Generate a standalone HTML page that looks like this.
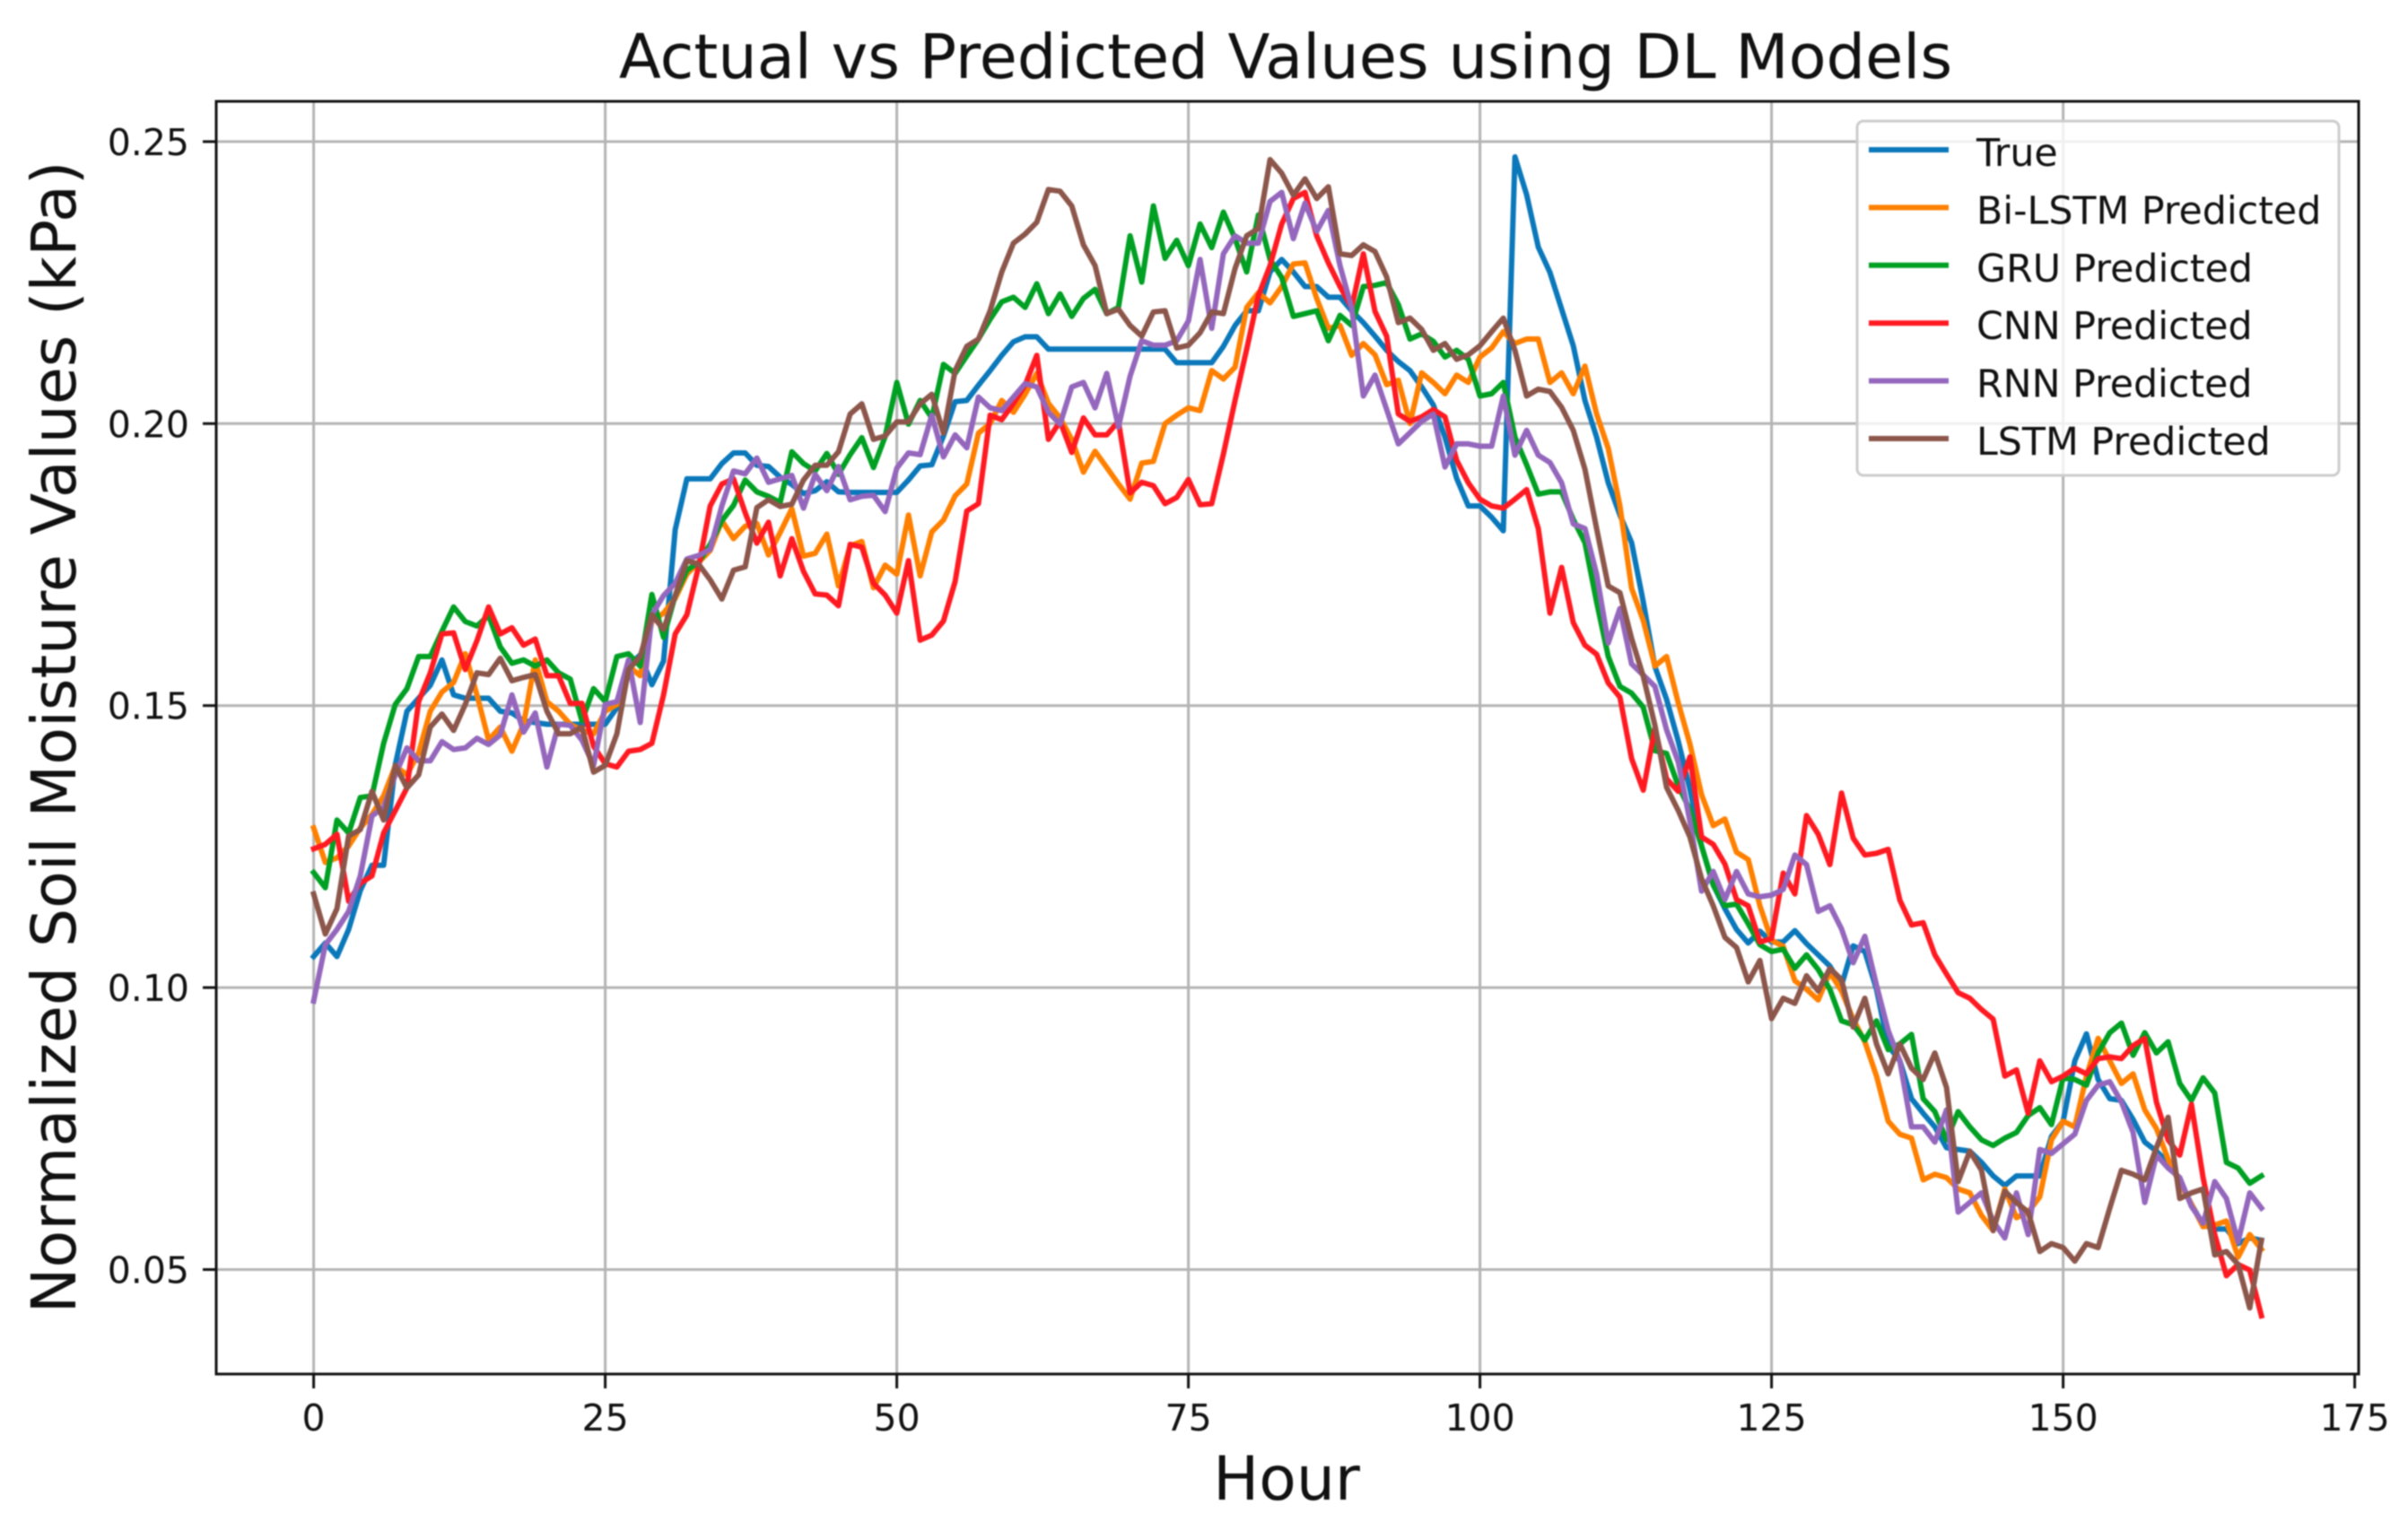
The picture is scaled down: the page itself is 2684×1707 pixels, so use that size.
<!DOCTYPE html>
<html lang="en">
<head>
<meta charset="utf-8">
<title>Actual vs Predicted Values using DL Models</title>
<style>
html,body{margin:0;padding:0;background:#fff;}
svg{display:block;filter:blur(0.7px);}
text{font-family:"DejaVu Sans","Liberation Sans",sans-serif;fill:#111;}
</style>
</head>
<body>
<svg id="chart" width="2684" height="1707" viewBox="0 0 2684 1707" xmlns="http://www.w3.org/2000/svg">
  <rect x="0" y="0" width="2684" height="1707" fill="#ffffff"/>
  <text x="1433" y="87" font-size="68.6" text-anchor="middle">Actual vs Predicted Values using DL Models</text>
  <text x="1434" y="1672" font-size="68" text-anchor="middle">Hour</text>
  <text x="84" y="822" font-size="68.2" text-anchor="middle" transform="rotate(-90 84 822)">Normalized Soil Moisture Values (kPa)</text>
  <g id="grid"></g>
  <g id="series"></g>
  <g id="ticks"></g>
  <rect x="241" y="113" width="2388" height="1419" fill="none" stroke="#111" stroke-width="3"/>
  <g id="legend">
    <rect x="2070" y="135" width="537" height="395" rx="7" ry="7" fill="#ffffff" fill-opacity="0.8" stroke="#cccccc" stroke-width="3"/>
  </g>
</svg>
<script>
const xTicks = [0, 25, 50, 75, 100, 125, 150, 175];
const yTicks = [0.05, 0.10, 0.15, 0.20, 0.25];
const yTickLabels = ["0.05", "0.10", "0.15", "0.20", "0.25"];
const seriesNames = ["True", "Bi-LSTM Predicted", "GRU Predicted", "CNN Predicted", "RNN Predicted", "LSTM Predicted"];
const trueValues = [
.1055,.1079,.1055,.1103,.1172,.1217,.1217,.1395,.1490,.1513,
.1536,.1581,.1519,.1513,.1513,.1513,.1490,.1487,.1473,.1470,
.1467,.1467,.1467,.1467,.1467,.1467,.1496,.1570,.1590,.1537,
.1579,.1812,.1902,.1902,.1902,.1929,.1948,.1948,.1926,.1924,
.1905,.1892,.1876,.1881,.1897,.1879,.1878,.1878,.1878,.1878,
.1878,.1900,.1925,.1927,.1978,.2039,.2041,.2068,.2094,.2121,
.2145,.2154,.2154,.2132,.2132,.2132,.2132,.2132,.2132,.2132,
.2132,.2132,.2132,.2132,.2108,.2108,.2108,.2108,.2137,.2174,
.2200,.2200,.2269,.2291,.2269,.2243,.2243,.2224,.2224,.2200,
.2179,.2155,.2130,.2110,.2094,.2065,.2033,.1976,.1903,.1854,
.1854,.1834,.1810,.2473,.2406,.2313,.2268,.2203,.2138,.2041,
.1976,.1895,.1838,.1789,.1684,.1569,.1511,.1437,.1352,.1251,
.1182,.1140,.1103,.1079,.1100,.1081,.1081,.1101,.1078,.1058,
.1038,.1004,.1074,.1064,.0997,.0897,.0870,.0803,.0777,.0753,
.0716,.0713,.0710,.0690,.0666,.0649,.0666,.0666,.0666,.0736,
.0763,.0870,.0918,.0837,.0803,.0800,.0766,.0726,.0710,.0690,
.0656,.0616,.0579,.0572,.0572,.0546,.0556,.0552];
const biLstmValues = [
.1283,.1222,.1230,.1251,.1283,.1307,.1340,.1393,.1377,.1416,
.1490,.1524,.1541,.1592,.1519,.1439,.1462,.1419,.1467,.1581,
.1507,.1490,.1467,.1456,.1450,.1490,.1502,.1570,.1553,.1649,
.1664,.1690,.1733,.1754,.1775,.1828,.1796,.1818,.1823,.1767,
.1807,.1849,.1765,.1770,.1804,.1712,.1783,.1791,.1709,.1749,
.1733,.1838,.1730,.1808,.1829,.1872,.1893,.1983,.2000,.2041,
.2020,.2052,.2089,.2036,.2010,.1972,.1914,.1951,.1922,.1893,
.1866,.1930,.1933,.2000,.2015,.2028,.2023,.2094,.2079,.2100,
.2206,.2232,.2214,.2243,.2283,.2285,.2222,.2169,.2174,.2121,
.2142,.2122,.2069,.2077,.2000,.2090,.2073,.2053,.2086,.2073,
.2118,.2134,.2163,.2142,.2150,.2150,.2073,.2090,.2053,.2102,
.2017,.1956,.1854,.1708,.1651,.1570,.1587,.1505,.1432,.1342,
.1287,.1299,.1240,.1227,.1145,.1084,.1073,.1012,.0997,.0978,
.1027,.0994,.0944,.0904,.0843,.0763,.0740,.0733,.0659,.0669,
.0663,.0643,.0636,.0596,.0569,.0643,.0592,.0602,.0629,.0730,
.0763,.0753,.0843,.0910,.0870,.0830,.0847,.0783,.0750,.0696,
.0653,.0616,.0576,.0579,.0586,.0522,.0562,.0536];
const gruValues = [
.1204,.1177,.1297,.1274,.1337,.1340,.1433,.1502,.1530,.1587,
.1587,.1632,.1675,.1649,.1641,.1660,.1604,.1575,.1581,.1570,
.1581,.1558,.1547,.1473,.1530,.1507,.1587,.1592,.1570,.1697,
.1621,.1695,.1740,.1754,.1786,.1828,.1855,.1900,.1879,.1871,
.1860,.1950,.1929,.1916,.1947,.1910,.1945,.1975,.1922,.1977,
.2073,.1999,.2041,.2010,.2105,.2089,.2120,.2150,.2185,.2216,
.2224,.2206,.2248,.2195,.2230,.2190,.2222,.2238,.2195,.2206,
.2333,.2251,.2386,.2293,.2325,.2280,.2354,.2312,.2375,.2328,
.2269,.2370,.2291,.2259,.2190,.2195,.2200,.2147,.2192,.2174,
.2243,.2245,.2250,.2211,.2150,.2159,.2146,.2118,.2130,.2114,
.2049,.2053,.2073,.1976,.1927,.1875,.1879,.1879,.1830,.1789,
.1684,.1587,.1534,.1522,.1497,.1420,.1415,.1358,.1315,.1251,
.1182,.1145,.1148,.1113,.1076,.1064,.1068,.1034,.1058,.1032,
.0997,.0941,.0934,.0907,.0941,.0890,.0900,.0917,.0803,.0780,
.0730,.0780,.0753,.0730,.0720,.0733,.0743,.0773,.0787,.0757,
.0840,.0837,.0827,.0884,.0920,.0937,.0880,.0920,.0884,.0904,
.0830,.0800,.0840,.0813,.0690,.0680,.0653,.0666];
const cnnValues = [
.1246,.1254,.1272,.1153,.1185,.1198,.1274,.1314,.1354,.1507,
.1558,.1627,.1629,.1564,.1615,.1675,.1627,.1638,.1607,.1618,
.1553,.1553,.1504,.1504,.1428,.1397,.1391,.1419,.1422,.1433,
.1519,.1627,.1661,.1746,.1854,.1893,.1902,.1842,.1788,.1825,
.1730,.1796,.1738,.1698,.1696,.1677,.1786,.1781,.1717,.1696,
.1664,.1757,.1616,.1625,.1650,.1720,.1845,.1858,.2015,.2007,
.2036,.2068,.2121,.1972,.2004,.1949,.2010,.1980,.1980,.2004,
.1877,.1896,.1890,.1858,.1869,.1901,.1856,.1858,.1946,.2041,
.2132,.2227,.2280,.2354,.2399,.2410,.2333,.2285,.2243,.2206,
.2301,.2199,.2155,.2017,.2004,.2012,.2025,.2012,.1935,.1895,
.1866,.1854,.1850,.1866,.1883,.1814,.1664,.1745,.1647,.1607,
.1591,.1540,.1515,.1406,.1350,.1460,.1370,.1348,.1409,.1267,
.1254,.1219,.1156,.1145,.1081,.1087,.1203,.1166,.1305,.1272,
.1218,.1345,.1265,.1235,.1238,.1245,.1155,.1111,.1115,.1058,
.1024,.0991,.0981,.0961,.0944,.0843,.0854,.0777,.0870,.0833,
.0843,.0857,.0847,.0874,.0877,.0874,.0897,.0910,.0797,.0730,
.0703,.0793,.0663,.0562,.0489,.0509,.0499,.0418];
const rnnValues = [
.0976,.1076,.1103,.1135,.1198,.1304,.1320,.1377,.1425,.1402,
.1402,.1436,.1422,.1425,.1442,.1431,.1448,.1519,.1453,.1487,
.1391,.1467,.1465,.1439,.1394,.1502,.1507,.1581,.1470,.1661,
.1695,.1717,.1760,.1766,.1777,.1854,.1916,.1911,.1939,.1896,
.1902,.1908,.1850,.1910,.1881,.1924,.1865,.1871,.1873,.1844,
.1921,.1948,.1945,.2015,.1941,.1980,.1957,.2047,.2028,.2023,
.2047,.2071,.2065,.2020,.1999,.2065,.2073,.2028,.2089,.1994,
.2084,.2147,.2139,.2139,.2147,.2182,.2291,.2169,.2301,.2333,
.2320,.2320,.2394,.2410,.2328,.2391,.2341,.2378,.2280,.2205,
.2049,.2086,.2025,.1964,.1984,.2004,.2017,.1923,.1964,.1964,
.1960,.1960,.2049,.1944,.1988,.1944,.1931,.1895,.1822,.1814,
.1733,.1611,.1672,.1574,.1554,.1534,.1457,.1400,.1295,.1171,
.1206,.1156,.1206,.1166,.1161,.1164,.1174,.1235,.1218,.1135,
.1145,.1104,.1044,.1091,.1004,.0924,.0870,.0753,.0753,.0726,
.0783,.0602,.0619,.0636,.0586,.0556,.0636,.0562,.0713,.0706,
.0723,.0740,.0800,.0827,.0833,.0797,.0743,.0619,.0703,.0680,
.0663,.0612,.0582,.0656,.0626,.0549,.0636,.0609];
const lstmValues = [
.1166,.1095,.1140,.1269,.1280,.1348,.1297,.1394,.1354,.1377,
.1462,.1485,.1456,.1502,.1558,.1555,.1584,.1544,.1550,.1555,
.1490,.1450,.1450,.1462,.1382,.1394,.1450,.1564,.1587,.1661,
.1635,.1695,.1757,.1751,.1723,.1689,.1740,.1746,.1851,.1865,
.1853,.1857,.1900,.1926,.1926,.1950,.2017,.2035,.1972,.1978,
.2003,.2003,.2035,.2052,.1983,.2094,.2137,.2150,.2200,.2269,
.2320,.2336,.2357,.2415,.2412,.2386,.2317,.2280,.2195,.2203,
.2174,.2155,.2198,.2200,.2134,.2139,.2161,.2198,.2195,.2275,
.2333,.2346,.2468,.2444,.2405,.2434,.2399,.2420,.2301,.2298,
.2317,.2305,.2260,.2179,.2187,.2167,.2130,.2142,.2114,.2122,
.2138,.2163,.2187,.2130,.2049,.2061,.2057,.2029,.1988,.1919,
.1814,.1712,.1700,.1619,.1552,.1465,.1355,.1314,.1267,.1193,
.1145,.1089,.1071,.1010,.1048,.0945,.0981,.0972,.1021,.0994,
.1034,.1014,.0930,.0981,.0900,.0847,.0900,.0857,.0837,.0884,
.0823,.0656,.0710,.0676,.0569,.0639,.0619,.0602,.0532,.0546,
.0539,.0515,.0546,.0539,.0609,.0676,.0669,.0659,.0716,.0770,
.0626,.0636,.0643,.0526,.0532,.0509,.0432,.0552];
const seriesValues = [trueValues, biLstmValues, gruValues, cnnValues, rnnValues, lstmValues];

const seriesColors = ["#0a78ba", "#ff8000", "#00a023", "#ff1a22", "#9467bd", "#8c564b"];
const NS = "http://www.w3.org/2000/svg";
function xScale(v) { return 349.6 + (v / 25) * 325; }
function yScale(v) { return 1415.5 - ((v - 0.05) / 0.05) * 314.4; }
function make(tag, parent, attrs) {
  const el = document.createElementNS(NS, tag);
  for (const k in attrs) el.setAttribute(k, attrs[k]);
  parent.appendChild(el);
  return el;
}
const gridG = document.getElementById("grid");
const ticksG = document.getElementById("ticks");
const seriesG = document.getElementById("series");
const legendG = document.getElementById("legend");

xTicks.forEach(function (t) {
  const x = xScale(t);
  if (t <= 167) {
    const g = make("line", gridG, {x1: x, x2: x, y1: 113, y2: 1532, stroke: "#b4b4b4", "stroke-width": 3});
    
    
  }
  const m = make("line", ticksG, {x1: x, x2: x, y1: 1532, y2: 1548, stroke: "#111", "stroke-width": 3});
  
  
  const l = make("text", ticksG, {x: x, y: 1595, "font-size": 41, "text-anchor": "middle"});
  
  
  l.textContent = String(t);
});
yTicks.forEach(function (t, i) {
  const y = yScale(t);
  const g = make("line", gridG, {x1: 241, x2: 2629, y1: y, y2: y, stroke: "#b4b4b4", "stroke-width": 3});
  
  
  const m = make("line", ticksG, {x1: 226, x2: 241, y1: y, y2: y, stroke: "#111", "stroke-width": 3});
  
  
  const l = make("text", ticksG, {x: 211, y: y + 15, "font-size": 41, "text-anchor": "end"});
  
  
  l.textContent = yTickLabels[i];
});
seriesValues.forEach(function (vals, i) {
  const pts = vals.map(function (v, h) { return xScale(h).toFixed(1) + "," + yScale(v).toFixed(1); }).join(" ");
  const p = make("polyline", seriesG, {points: pts, fill: "none", stroke: seriesColors[i], "stroke-width": 6, "stroke-linejoin": "round", "stroke-linecap": "square"});
  
  
  p.setAttribute('data-series', seriesNames[i]);
  const ly = 167 + i * 64.4;
  const k = make("line", legendG, {x1: 2083, x2: 2172, y1: ly, y2: ly, stroke: seriesColors[i], "stroke-width": 6});
  
  
  const t = make("text", legendG, {x: 2203, y: ly + 18, "font-size": 42.7});
  
  
  t.textContent = seriesNames[i];
});
</script>
</body>
</html>
